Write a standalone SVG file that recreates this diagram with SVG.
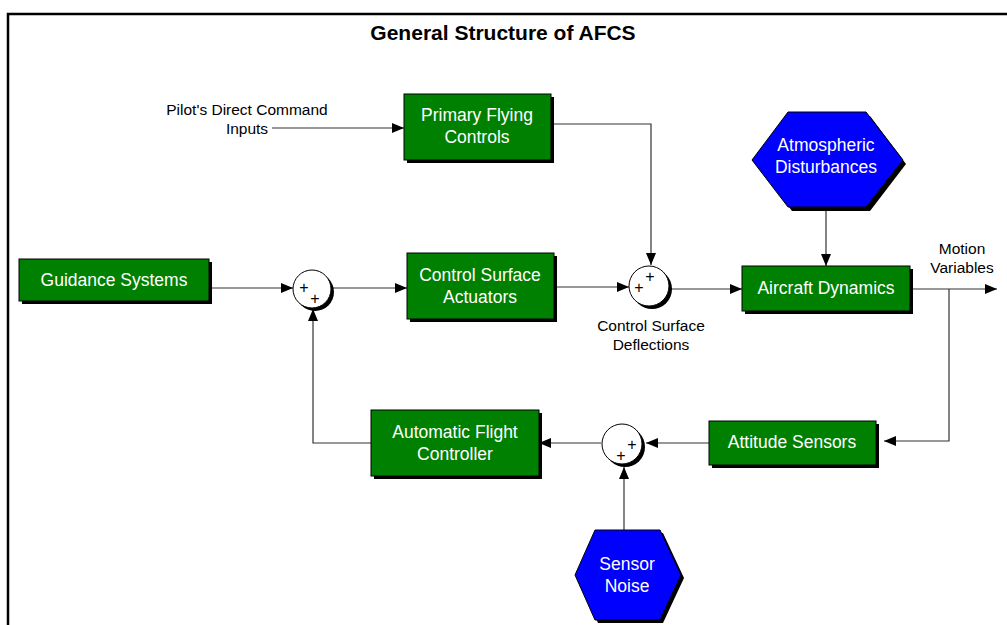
<svg xmlns="http://www.w3.org/2000/svg" width="1007" height="625" viewBox="0 0 1007 625">
  <style>
    .box { fill: #008000; stroke: #000; stroke-width: 1; }
    .shadow { fill: #000; }
    .hex { fill: #0000ff; stroke: #000; stroke-width: 1; }
    .lbl { font-family: "Liberation Sans", Arial, sans-serif; font-size: 17.5px; fill: #fff; text-anchor: middle; }
    .note { font-family: "Liberation Sans", Arial, sans-serif; font-size: 15.5px; fill: #000; text-anchor: middle; }
    .plus { font-family: "Liberation Sans", Arial, sans-serif; font-size: 16px; fill: #000; text-anchor: middle; }
    .title { font-family: "Liberation Sans", Arial, sans-serif; font-size: 21px; font-weight: bold; fill: #000; text-anchor: middle; }
    .wire { fill: none; stroke: #333; stroke-width: 1.2; }
    .sum { fill: #fff; stroke: #000; stroke-width: 1; }
  </style>
  <defs>
    <marker id="arrow" viewBox="0 0 12 10" refX="12" refY="5" markerWidth="12" markerHeight="10" markerUnits="userSpaceOnUse" orient="auto">
      <path d="M0,0 L12,5 L0,10 Z" fill="#000"/>
    </marker>
  </defs>

  <rect width="1007" height="625" fill="#fff"/>
  <!-- outer frame -->
  <path d="M8,625 V14 H1007" fill="none" stroke="#000" stroke-width="2.5"/>
  <text class="title" x="503" y="40">General Structure of AFCS</text>

  <!-- connectors -->
  <g id="connectors">
    <path class="wire" d="M272,128 H404" marker-end="url(#arrow)"/>
    <path class="wire" d="M209,288 H293" marker-end="url(#arrow)"/>
    <path class="wire" d="M332,288 H407" marker-end="url(#arrow)"/>
    <path class="wire" d="M554,287 H629" marker-end="url(#arrow)"/>
    <path class="wire" d="M551,124 H651 V265" marker-end="url(#arrow)"/>
    <path class="wire" d="M669,289 H742" marker-end="url(#arrow)"/>
    <path class="wire" d="M826,207 V266" marker-end="url(#arrow)"/>
    <path class="wire" d="M910,289 H997" marker-end="url(#arrow)"/>
    <path class="wire" d="M949,289 V441 H884" marker-end="url(#arrow)"/>
    <path class="wire" d="M709,443 H646" marker-end="url(#arrow)"/>
    <path class="wire" d="M601,443 H539" marker-end="url(#arrow)"/>
    <path class="wire" d="M371,443 H313 V309" marker-end="url(#arrow)"/>
    <path class="wire" d="M624,530 V467" marker-end="url(#arrow)"/>
  </g>

  <!-- side notes -->
  <text class="note" x="247" y="115">Pilot's Direct Command</text>
  <text class="note" x="247" y="134">Inputs</text>
  <text class="note" x="651" y="331">Control Surface</text>
  <text class="note" x="651" y="350">Deflections</text>
  <text class="note" x="962" y="254">Motion</text>
  <text class="note" x="962" y="273">Variables</text>

  <g id="guidance">
    <rect class="shadow" x="22" y="262" width="190" height="42"/>
    <rect class="box" x="19" y="259" width="190" height="42"/>
    <text class="lbl" x="114" y="286">Guidance Systems</text>
  </g>

  <g id="primary-controls">
    <rect class="shadow" x="407" y="97" width="147" height="66"/>
    <rect class="box" x="404" y="94" width="147" height="66"/>
    <text class="lbl" x="477" y="121">Primary Flying</text>
    <text class="lbl" x="477" y="143">Controls</text>
  </g>

  <g id="actuators">
    <rect class="shadow" x="410" y="256" width="147" height="66"/>
    <rect class="box" x="407" y="253" width="147" height="66"/>
    <text class="lbl" x="480" y="281">Control Surface</text>
    <text class="lbl" x="480" y="303">Actuators</text>
  </g>

  <g id="aircraft-dynamics">
    <rect class="shadow" x="745" y="269" width="168" height="45"/>
    <rect class="box" x="742" y="266" width="168" height="45"/>
    <text class="lbl" x="826" y="294">Aircraft Dynamics</text>
  </g>

  <g id="attitude-sensors">
    <rect class="shadow" x="712" y="424" width="167" height="44"/>
    <rect class="box" x="709" y="421" width="167" height="44"/>
    <text class="lbl" x="792" y="448">Attitude Sensors</text>
  </g>

  <g id="flight-controller">
    <rect class="shadow" x="374" y="413" width="168" height="66"/>
    <rect class="box" x="371" y="410" width="168" height="66"/>
    <text class="lbl" x="455" y="438">Automatic Flight</text>
    <text class="lbl" x="455" y="460">Controller</text>
  </g>

  <g id="disturbances">
    <polygon class="shadow" points="756,164 792,116 870,116 906,164 870,211 792,211"/>
    <polygon class="hex" points="752,160 788,112 866,112 903,160 866,207 788,207"/>
    <text class="lbl" x="826" y="151">Atmospheric</text>
    <text class="lbl" x="826" y="173">Disturbances</text>
  </g>

  <g id="sensor-noise">
    <polygon class="shadow" points="578,578 598,533 663,533 684,578 663,623 598,623"/>
    <polygon class="hex" points="575,575 595,530 660,530 681,575 660,620 595,620"/>
    <text class="lbl" x="627" y="570">Sensor</text>
    <text class="lbl" x="627" y="592">Noise</text>
  </g>

  <g id="sum-1">
    <circle class="shadow" cx="315" cy="292" r="19"/>
    <circle class="sum" cx="312" cy="289" r="19"/>
    <text class="plus" x="304" y="293">+</text>
    <text class="plus" x="315" y="304">+</text>
  </g>

  <g id="sum-2">
    <circle class="shadow" cx="652" cy="289" r="20"/>
    <circle class="sum" cx="649" cy="286" r="20"/>
    <text class="plus" x="650" y="282">+</text>
    <text class="plus" x="639" y="293">+</text>
  </g>

  <g id="sum-3">
    <circle class="shadow" cx="625" cy="447" r="20"/>
    <circle class="sum" cx="622" cy="444" r="20"/>
    <text class="plus" x="632" y="450">+</text>
    <text class="plus" x="621" y="461">+</text>
  </g>
</svg>
